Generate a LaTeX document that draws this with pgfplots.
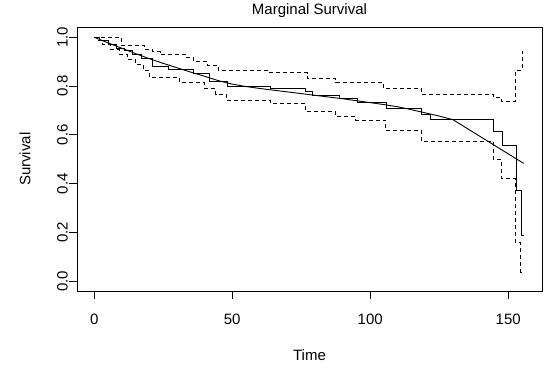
\documentclass[border=0pt]{standalone}
\usepackage{fontspec}
\setmainfont{Liberation Sans}
\usepackage{pgfplots}
\pgfplotsset{compat=1.18}
\begin{document}
\fontsize{15pt}{18pt}\selectfont
\begin{tikzpicture}
\useasboundingbox (-77pt,-80pt) rectangle (473pt,291pt);
\begin{axis}[
  at={(0,0)}, anchor=south west,
  scale only axis, width=465pt, height=263.5pt,
  xmin=-6.24, xmax=162.24, ymin=-0.04, ymax=1.04,
  axis line style={black, line width=0.8pt},
  xtick={0,50,100,150}, ytick={0,0.2,0.4,0.6,0.8,1.0},
  tick align=outside, xtick pos=bottom, ytick pos=left,
  major tick length=8pt,
  tick style={black, line width=0.8pt},
  /pgf/number format/assume math mode=true,
  yticklabel style={/pgf/number format/fixed, /pgf/number format/fixed zerofill, /pgf/number format/precision=1, xshift=4pt, rotate=90, anchor=south},
  xticklabel style={anchor=north},
  ticklabel style={font=\fontsize{15pt}{18pt}\selectfont},
  xticklabel shift=10pt, yticklabel shift=0pt,
  title={Marginal Survival},
  every axis title shift=0pt,
  title style={at={(axis description cs:0.5,1.0626)}, anchor=center, font=\fontsize{15pt}{18pt}\selectfont},
  xlabel={Time},
  xlabel style={at={(axis description cs:0.5,-0.2429)}, anchor=center, font=\fontsize{15pt}{18pt}\selectfont},
  ylabel={Survival},
  ylabel style={at={(axis description cs:-0.1118,0.5)}, anchor=center, font=\fontsize{15pt}{18pt}\selectfont},
]
% Kaplan-Meier estimate
\addplot[black, line width=0.9pt, const plot] coordinates {
(0,1)(2,0.985)(5,0.97)(8,0.955)(11,0.945)(14,0.93)(17,0.915)(21,0.88)(27,0.867)
(35.8,0.85)(41.8,0.82)(48.4,0.80)(63.8,0.79)(76.7,0.777)(79,0.763)(88.7,0.75)
(95.2,0.733)(105.9,0.708)(118.7,0.685)(121.7,0.662)(144.6,0.614)(147.8,0.555)
(153,0.373)(154.8,0.188)(155.6,0.188)};
% upper confidence limit
\addplot[black, line width=0.9pt, const plot, dash pattern=on 4pt off 3pt] coordinates {
(0,1)(9.7,0.965)(18.3,0.95)(21,0.94)(24,0.93)(33,0.918)(36,0.9)(41,0.885)(45,0.863)
(63.4,0.854)(77.3,0.833)(87.5,0.813)(104.9,0.791)(118.7,0.767)(144.6,0.754)
(147.5,0.737)(152.6,0.863)(155,0.941)(155.6,0.941)};
% lower confidence limit
\addplot[black, line width=0.9pt, const plot, dash pattern=on 4pt off 3pt] coordinates {
(0,1)(1,0.985)(3,0.97)(6,0.95)(9,0.93)(12,0.91)(15,0.89)(18,0.863)(20,0.836)
(31,0.815)(40,0.79)(44,0.767)(47.8,0.74)(64,0.73)(76.7,0.695)(87.5,0.676)
(94.7,0.661)(105.5,0.619)(118.7,0.573)(144.6,0.5)(147.5,0.422)(152.6,0.16)
(154.5,0.035)(155.6,0.035)};
% fitted parametric curve
\addplot[black, line width=0.9pt] coordinates {
(0,1.000)(5,0.977)(10,0.955)(15,0.933)(20,0.912)(25,0.893)(30,0.875)(35,0.857)
(40,0.840)(45,0.822)(50,0.808)(55,0.798)(60,0.790)(65,0.783)(70,0.776)(75,0.769)
(80,0.762)(85,0.755)(90,0.748)(95,0.740)(100,0.732)(105,0.724)(110,0.715)
(115,0.703)(120,0.690)(125,0.677)(130,0.662)(155.6,0.483)};
\end{axis}
\end{tikzpicture}
\end{document}
